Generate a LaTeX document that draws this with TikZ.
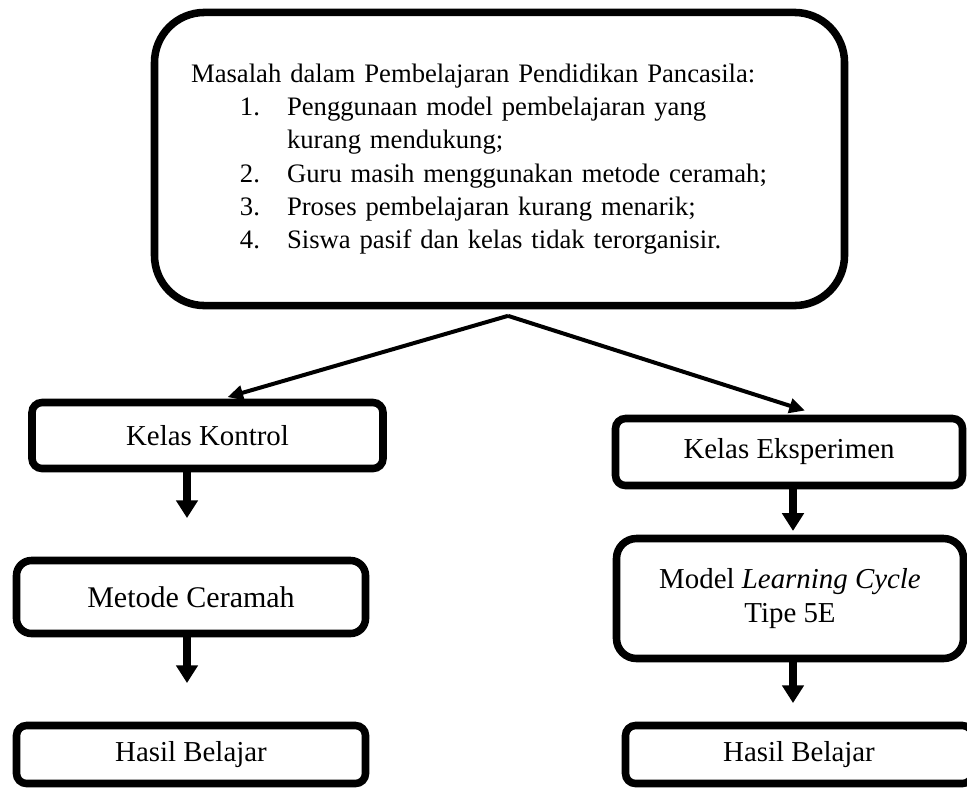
\documentclass[tikz,border=0pt]{standalone}
\usepackage{fontspec}
\setmainfont{Liberation Serif}
\usetikzlibrary{arrows.meta, calc}

\newcommand{\butir}[1]{\hspace*{22pt}\makebox[21.2pt][l]{#1}}

\tikzset{
  kotak/.style={draw, line width=3.4pt, rounded corners=4.5pt, align=center, inner sep=0pt,
    font=\fontsize{13}{15.5}\selectfont},
  panah/.style={-{Triangle[length=8pt, width=9.5pt]}, line width=3.2pt},
  garis/.style={-{Triangle[length=7pt, width=6.5pt]}, line width=1.8pt},
}

\begin{document}
\begin{tikzpicture}[x=0.45pt, y=-0.45pt]
        % Batas gambar (satuan: piksel)
        \useasboundingbox (0,0) rectangle (967,791);

        % Kotak masalah
        \node[kotak, minimum width=310.5pt, minimum height=131.9pt, rounded corners=22.5pt,
              text width=277.6pt, align=left, font=\fontsize{12}{15}\selectfont]
              (masalah) at (499.5,159) {Masalah dalam Pembelajaran Pendidikan Pancasila:\\
              \butir{1.}Penggunaan model pembelajaran yang\\
              \hspace*{43.2pt}kurang mendukung;\\
              \butir{2.}Guru masih menggunakan metode ceramah;\\
              \butir{3.}Proses pembelajaran kurang menarik;\\
              \butir{4.}Siswa pasif dan kelas tidak terorganisir.};

        % Kelas kontrol (kiri)
        \node[kotak, minimum width=157.95pt, minimum height=29.7pt] (kontrol) at (207.5,435.5) {Kelas Kontrol};
        \node[kotak, minimum width=157.05pt, minimum height=32.85pt, rounded corners=6.75pt,
              font=\fontsize{13.5}{16}\selectfont] (ceramah) at (191,597) {Metode Ceramah};
        \node[kotak, minimum width=157.05pt, minimum height=26.1pt] (hasilA) at (191,754.5) {Hasil Belajar};

        % Kelas eksperimen (kanan)
        \node[kotak, minimum width=156.15pt, minimum height=30.15pt] (eksperimen) at (789,452) {Kelas Eksperimen};
        \node[kotak, minimum width=156.15pt, minimum height=54pt, rounded corners=9pt]
              (model) at (790,598.5) {Model \textit{Learning Cycle}\\Tipe 5E};
        \node[kotak, minimum width=156.15pt, minimum height=26.1pt] (hasilB) at (799,754.5) {Hasil Belajar};

        % Percabangan dari kotak masalah
        \coordinate (puncak) at ($(masalah.south)+(8.5,6.5)$);
        \draw[garis, shorten >=2.6pt] (puncak) -- ($(kontrol.north)+(14.5,0)$);
        \draw[garis, shorten >=6.2pt] (puncak) -- ($(eksperimen.north)+(29,0)$);

        % Alur ke bawah
        \draw[panah, shorten >=17.4pt] ($(kontrol.south)+(-20.5,0)$) -- ($(ceramah.north)+(-4,0)$);
        \draw[panah, shorten >=17.4pt] ($(ceramah.south)+(-4,0)$) -- ($(hasilA.north)+(-4,0)$);
        \draw[panah, shorten >=1.7pt] ($(eksperimen.south)+(4,0)$) -- ($(model.north)+(3,0)$);
        \draw[panah, shorten >=8.4pt] ($(model.south)+(3,0)$) -- ($(hasilB.north)+(-6,0)$);

\end{tikzpicture}
\end{document}
